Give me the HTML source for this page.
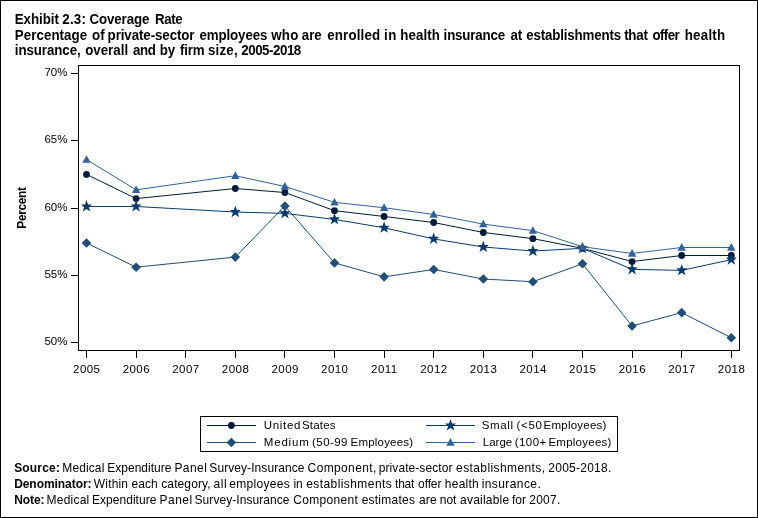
<!DOCTYPE html>
<html><head><meta charset="utf-8"><title>Exhibit 2.3: Coverage Rate</title>
<style>
html,body{margin:0;padding:0;background:#fff;}
body{width:758px;height:518px;position:relative;overflow:hidden;font-family:"Liberation Sans",sans-serif;color:#000;}
#wrap{position:absolute;left:0;top:0;width:758px;height:518px;will-change:transform;}
#frame{position:absolute;left:0;top:0;width:756px;height:516px;border:1px solid #000;}
.t{position:absolute;white-space:nowrap;}
.title{left:15.4px;font-weight:bold;font-size:13.33px;line-height:15px;transform:scaleY(1.06);transform-origin:0 11.9px;}
.foot{font-size:12px;line-height:16px;transform:scaleY(1.08);transform-origin:0 12.2px;}
.tick{font-size:11.5px;line-height:12px;color:#000;}
.yl{text-align:right;width:40px;left:27.5px;}
.xl{text-align:center;width:40px;letter-spacing:0.45px;margin-left:0.25px;}
.lg{font-size:11.5px;line-height:12px;color:#000;}
</style></head><body>
<div id="wrap"><div id="frame"></div>
<svg width="758" height="518" viewBox="0 0 758 518" style="position:absolute;left:0;top:0">
<g shape-rendering="crispEdges" stroke="#000" stroke-width="1" fill="none">
<rect x="78.5" y="65.5" width="661" height="285"/>
<line x1="71" y1="73.5" x2="78" y2="73.5"/>
<line x1="71" y1="140.5" x2="78" y2="140.5"/>
<line x1="71" y1="208.5" x2="78" y2="208.5"/>
<line x1="71" y1="275.5" x2="78" y2="275.5"/>
<line x1="71" y1="342.5" x2="78" y2="342.5"/>
<line x1="86.5" y1="351" x2="86.5" y2="358"/>
<line x1="136.5" y1="351" x2="136.5" y2="358"/>
<line x1="185.5" y1="351" x2="185.5" y2="358"/>
<line x1="235.5" y1="351" x2="235.5" y2="358"/>
<line x1="284.5" y1="351" x2="284.5" y2="358"/>
<line x1="334.5" y1="351" x2="334.5" y2="358"/>
<line x1="384.5" y1="351" x2="384.5" y2="358"/>
<line x1="433.5" y1="351" x2="433.5" y2="358"/>
<line x1="483.5" y1="351" x2="483.5" y2="358"/>
<line x1="532.5" y1="351" x2="532.5" y2="358"/>
<line x1="582.5" y1="351" x2="582.5" y2="358"/>
<line x1="632.5" y1="351" x2="632.5" y2="358"/>
<line x1="681.5" y1="351" x2="681.5" y2="358"/>
<line x1="731.5" y1="351" x2="731.5" y2="358"/>
<rect x="200.5" y="416.5" width="417" height="35" fill="#fff"/>
</g>
<path d="M86.50,174.38 L136.10,198.58 L235.30,188.50 L284.90,192.53 L334.50,210.69 L384.10,216.47 L433.70,222.53 L483.30,232.48 L532.90,238.67 L582.50,248.35 L632.10,261.53 L681.70,255.51 L731.30,255.51" fill="none" stroke="#001b3a" stroke-width="1"/>
<path d="M83.10,174.38 a3.4,3.4 0 1,0 6.8,0 a3.4,3.4 0 1,0 -6.8,0Z M132.70,198.58 a3.4,3.4 0 1,0 6.8,0 a3.4,3.4 0 1,0 -6.8,0Z M231.90,188.50 a3.4,3.4 0 1,0 6.8,0 a3.4,3.4 0 1,0 -6.8,0Z M281.50,192.53 a3.4,3.4 0 1,0 6.8,0 a3.4,3.4 0 1,0 -6.8,0Z M331.10,210.69 a3.4,3.4 0 1,0 6.8,0 a3.4,3.4 0 1,0 -6.8,0Z M380.70,216.47 a3.4,3.4 0 1,0 6.8,0 a3.4,3.4 0 1,0 -6.8,0Z M430.30,222.53 a3.4,3.4 0 1,0 6.8,0 a3.4,3.4 0 1,0 -6.8,0Z M479.90,232.48 a3.4,3.4 0 1,0 6.8,0 a3.4,3.4 0 1,0 -6.8,0Z M529.50,238.67 a3.4,3.4 0 1,0 6.8,0 a3.4,3.4 0 1,0 -6.8,0Z M579.10,248.35 a3.4,3.4 0 1,0 6.8,0 a3.4,3.4 0 1,0 -6.8,0Z M628.70,261.53 a3.4,3.4 0 1,0 6.8,0 a3.4,3.4 0 1,0 -6.8,0Z M678.30,255.51 a3.4,3.4 0 1,0 6.8,0 a3.4,3.4 0 1,0 -6.8,0Z M727.90,255.51 a3.4,3.4 0 1,0 6.8,0 a3.4,3.4 0 1,0 -6.8,0Z" fill="#001b3a"/>

<path d="M86.50,206.49 L136.10,206.49 L235.30,212.03 L284.90,213.38 L334.50,219.43 L384.10,227.77 L433.70,238.93 L483.30,247.00 L532.90,251.04 L582.50,248.35 L632.10,269.33 L681.70,270.41 L731.30,259.65" fill="none" stroke="#073b6d" stroke-width="1"/>
<path d="M86.50,200.09 L88.00,204.39 L91.90,204.39 L88.90,207.29 L90.30,211.59 L86.50,208.89 L82.70,211.59 L84.10,207.29 L81.10,204.39 L85.00,204.39Z M136.10,200.09 L137.60,204.39 L141.50,204.39 L138.50,207.29 L139.90,211.59 L136.10,208.89 L132.30,211.59 L133.70,207.29 L130.70,204.39 L134.60,204.39Z M235.30,205.63 L236.80,209.93 L240.70,209.93 L237.70,212.83 L239.10,217.13 L235.30,214.43 L231.50,217.13 L232.90,212.83 L229.90,209.93 L233.80,209.93Z M284.90,206.98 L286.40,211.28 L290.30,211.28 L287.30,214.18 L288.70,218.48 L284.90,215.78 L281.10,218.48 L282.50,214.18 L279.50,211.28 L283.40,211.28Z M334.50,213.03 L336.00,217.33 L339.90,217.33 L336.90,220.23 L338.30,224.53 L334.50,221.83 L330.70,224.53 L332.10,220.23 L329.10,217.33 L333.00,217.33Z M384.10,221.37 L385.60,225.67 L389.50,225.67 L386.50,228.57 L387.90,232.87 L384.10,230.17 L380.30,232.87 L381.70,228.57 L378.70,225.67 L382.60,225.67Z M433.70,232.53 L435.20,236.83 L439.10,236.83 L436.10,239.73 L437.50,244.03 L433.70,241.33 L429.90,244.03 L431.30,239.73 L428.30,236.83 L432.20,236.83Z M483.30,240.60 L484.80,244.91 L488.70,244.91 L485.70,247.81 L487.10,252.10 L483.30,249.41 L479.50,252.10 L480.90,247.81 L477.90,244.91 L481.80,244.91Z M532.90,244.64 L534.40,248.94 L538.30,248.94 L535.30,251.84 L536.70,256.14 L532.90,253.44 L529.10,256.14 L530.50,251.84 L527.50,248.94 L531.40,248.94Z M582.50,241.95 L584.00,246.25 L587.90,246.25 L584.90,249.15 L586.30,253.45 L582.50,250.75 L578.70,253.45 L580.10,249.15 L577.10,246.25 L581.00,246.25Z M632.10,262.93 L633.60,267.23 L637.50,267.23 L634.50,270.13 L635.90,274.43 L632.10,271.73 L628.30,274.43 L629.70,270.13 L626.70,267.23 L630.60,267.23Z M681.70,264.01 L683.20,268.31 L687.10,268.31 L684.10,271.21 L685.50,275.51 L681.70,272.81 L677.90,275.51 L679.30,271.21 L676.30,268.31 L680.20,268.31Z M731.30,253.25 L732.80,257.55 L736.70,257.55 L733.70,260.45 L735.10,264.75 L731.30,262.05 L727.50,264.75 L728.90,260.45 L725.90,257.55 L729.80,257.55Z" fill="#073b6d"/>

<path d="M86.50,242.97 L136.10,267.18 L235.30,257.09 L284.90,205.98 L334.50,262.88 L384.10,276.86 L433.70,269.47 L483.30,279.02 L532.90,281.71 L582.50,263.82 L632.10,325.96 L681.70,312.64 L731.30,337.79" fill="none" stroke="#1f4e79" stroke-width="1"/>
<path d="M86.50,238.17 L91.30,242.97 L86.50,247.77 L81.70,242.97Z M136.10,262.38 L140.90,267.18 L136.10,271.98 L131.30,267.18Z M235.30,252.29 L240.10,257.09 L235.30,261.89 L230.50,257.09Z M284.90,201.18 L289.70,205.98 L284.90,210.78 L280.10,205.98Z M334.50,258.08 L339.30,262.88 L334.50,267.68 L329.70,262.88Z M384.10,272.06 L388.90,276.86 L384.10,281.66 L379.30,276.86Z M433.70,264.67 L438.50,269.47 L433.70,274.27 L428.90,269.47Z M483.30,274.22 L488.10,279.02 L483.30,283.82 L478.50,279.02Z M532.90,276.91 L537.70,281.71 L532.90,286.51 L528.10,281.71Z M582.50,259.02 L587.30,263.82 L582.50,268.62 L577.70,263.82Z M632.10,321.16 L636.90,325.96 L632.10,330.76 L627.30,325.96Z M681.70,307.84 L686.50,312.64 L681.70,317.44 L676.90,312.64Z M731.30,332.99 L736.10,337.79 L731.30,342.59 L726.50,337.79Z" fill="#1f4e79"/>

<path d="M86.50,159.58 L136.10,189.84 L235.30,175.72 L284.90,186.48 L334.50,202.35 L384.10,207.73 L433.70,214.46 L483.30,224.14 L532.90,230.60 L582.50,246.74 L632.10,253.46 L681.70,247.50 L731.30,247.50" fill="none" stroke="#30639b" stroke-width="1"/>
<path d="M86.50,155.18 L90.70,162.78 L82.30,162.78Z M136.10,185.44 L140.30,193.04 L131.90,193.04Z M235.30,171.32 L239.50,178.92 L231.10,178.92Z M284.90,182.08 L289.10,189.68 L280.70,189.68Z M334.50,197.95 L338.70,205.55 L330.30,205.55Z M384.10,203.33 L388.30,210.93 L379.90,210.93Z M433.70,210.06 L437.90,217.66 L429.50,217.66Z M483.30,219.74 L487.50,227.34 L479.10,227.34Z M532.90,226.20 L537.10,233.80 L528.70,233.80Z M582.50,242.34 L586.70,249.94 L578.30,249.94Z M632.10,249.06 L636.30,256.66 L627.90,256.66Z M681.70,243.10 L685.90,250.70 L677.50,250.70Z M731.30,243.10 L735.50,250.70 L727.10,250.70Z" fill="#30639b"/>

<path d="M207,425.5 L256,425.5" stroke="#001b3a" stroke-width="1" fill="none"/><path d="M228.00,425.50 a3.4,3.4 0 1,0 6.8,0 a3.4,3.4 0 1,0 -6.8,0Z" fill="#001b3a"/>
<path d="M207,442.5 L256,442.5" stroke="#1f4e79" stroke-width="1" fill="none"/><path d="M231.40,437.70 L236.20,442.50 L231.40,447.30 L226.60,442.50Z" fill="#1f4e79"/>
<path d="M426,425.5 L475,425.5" stroke="#073b6d" stroke-width="1" fill="none"/><path d="M450.50,419.10 L452.00,423.40 L455.90,423.40 L452.90,426.30 L454.30,430.60 L450.50,427.90 L446.70,430.60 L448.10,426.30 L445.10,423.40 L449.00,423.40Z" fill="#073b6d"/>
<path d="M426,442.5 L475,442.5" stroke="#30639b" stroke-width="1" fill="none"/><path d="M450.50,438.10 L454.70,445.70 L446.30,445.70Z" fill="#30639b"/>
</svg>
<div class="t title" style="top:12px;left:14.8px;letter-spacing:-0.067px">Exhibit</div>
<div class="t title" style="top:12px;left:62.36px;letter-spacing:0.18px">2.3:</div>
<div class="t title" style="top:12px;left:89.4px;letter-spacing:-0.101px">Coverage</div>
<div class="t title" style="top:12px;left:155.0px;letter-spacing:-0.423px">Rate</div>
<div class="t title" style="top:27.5px;left:14.8px;letter-spacing:0.056px">Percentage</div>
<div class="t title" style="top:27.5px;left:92.08px;letter-spacing:0.022px">of</div>
<div class="t title" style="top:27.5px;left:107.6px;letter-spacing:-0.093px">private-sector</div>
<div class="t title" style="top:27.5px;left:199.44px;letter-spacing:-0.117px">employees</div>
<div class="t title" style="top:27.5px;left:271.19px;letter-spacing:0.222px">who</div>
<div class="t title" style="top:27.5px;left:301.76px;letter-spacing:0.0px">are</div>
<div class="t title" style="top:27.5px;left:327.24px;letter-spacing:0.15px">enrolled</div>
<div class="t title" style="top:27.5px;left:384.0px;letter-spacing:0.5px">in</div>
<div class="t title" style="top:27.5px;left:400.2px;letter-spacing:0.089px">health</div>
<div class="t title" style="top:27.5px;left:443.6px;letter-spacing:-0.163px">insurance</div>
<div class="t title" style="top:27.5px;left:510.6px;letter-spacing:-0.241px">at</div>
<div class="t title" style="top:27.5px;left:526.18px;letter-spacing:-0.161px">establishments</div>
<div class="t title" style="top:27.5px;left:624.18px;letter-spacing:-0.242px">that</div>
<div class="t title" style="top:27.5px;left:652.44px;letter-spacing:-0.578px">offer</div>
<div class="t title" style="top:27.5px;left:684.75px;letter-spacing:0.229px">health</div>
<div class="t title" style="top:42.5px;left:14.8px;letter-spacing:-0.084px">insurance,</div>
<div class="t title" style="top:42.5px;left:85.13px;letter-spacing:0.011px">overall</div>
<div class="t title" style="top:42.5px;left:132.96px;letter-spacing:-0.432px">and</div>
<div class="t title" style="top:42.5px;left:159.67px;letter-spacing:-0.121px">by</div>
<div class="t title" style="top:42.5px;left:179.91px;letter-spacing:-0.142px">firm</div>
<div class="t title" style="top:42.5px;left:208.0px;letter-spacing:0.175px">size,</div>
<div class="t title" style="top:42.5px;left:241.32px;letter-spacing:-0.478px">2005-2018</div>

<div class="t" id="ylab" style="left:22.1px;top:208.3px;font-weight:bold;font-size:11.9px;letter-spacing:-0.34px;line-height:12px;transform:translate(-50%,-50%) rotate(-90deg);">Percent</div>
<div class="t tick yl" style="top:65.5px">70%</div>
<div class="t tick yl" style="top:132.5px">65%</div>
<div class="t tick yl" style="top:200.5px">60%</div>
<div class="t tick yl" style="top:267.5px">55%</div>
<div class="t tick yl" style="top:334.5px">50%</div>
<div class="t tick xl" style="left:66.5px;top:363px">2005</div>
<div class="t tick xl" style="left:116.1px;top:363px">2006</div>
<div class="t tick xl" style="left:165.7px;top:363px">2007</div>
<div class="t tick xl" style="left:215.3px;top:363px">2008</div>
<div class="t tick xl" style="left:264.9px;top:363px">2009</div>
<div class="t tick xl" style="left:314.5px;top:363px">2010</div>
<div class="t tick xl" style="left:364.1px;top:363px">2011</div>
<div class="t tick xl" style="left:413.7px;top:363px">2012</div>
<div class="t tick xl" style="left:463.3px;top:363px">2013</div>
<div class="t tick xl" style="left:512.9px;top:363px">2014</div>
<div class="t tick xl" style="left:562.5px;top:363px">2015</div>
<div class="t tick xl" style="left:612.1px;top:363px">2016</div>
<div class="t tick xl" style="left:661.7px;top:363px">2017</div>
<div class="t tick xl" style="left:711.3px;top:363px">2018</div>
<div class="t lg" style="top:419px;left:263.8px;letter-spacing:0.661px">United</div>
<div class="t lg" style="top:419px;left:301.97px;letter-spacing:0.182px">States</div>
<div class="t lg" style="top:436px;left:263.75px;letter-spacing:0.828px">Medium</div>
<div class="t lg" style="top:436px;left:312.08px;letter-spacing:0.435px">(50-99</div>
<div class="t lg" style="top:436px;left:350.6px;letter-spacing:0.189px">Employees)</div>
<div class="t lg" style="top:419px;left:481.67px;letter-spacing:0.64px">Small</div>
<div class="t lg" style="top:419px;left:516.52px;letter-spacing:0.712px">(&lt;50</div>
<div class="t lg" style="top:419px;left:543.6px;letter-spacing:0.223px">Employees)</div>
<div class="t lg" style="top:436px;left:482.75px;letter-spacing:0.011px">Large</div>
<div class="t lg" style="top:436px;left:514.65px;letter-spacing:0.488px">(100+</div>
<div class="t lg" style="top:436px;left:548.4px;letter-spacing:0.249px">Employees)</div>

<div class="t foot" style="top:460px;left:14.17px;letter-spacing:0.179px"><b>Source:</b></div>
<div class="t foot" style="top:476px;left:14.15px;letter-spacing:-0.057px"><b>Denominator:</b></div>
<div class="t foot" style="top:492px;left:14.15px;letter-spacing:-0.062px"><b>Note:</b></div>
<div class="t foot" style="top:460px;left:62.35px;letter-spacing:0.103px">Medical</div>
<div class="t foot" style="top:460px;left:107.35px;letter-spacing:-0.007px">Expenditure</div>
<div class="t foot" style="top:460px;left:174.4px;letter-spacing:0.452px">Panel</div>
<div class="t foot" style="top:460px;left:209.35px;letter-spacing:0.07px">Survey-Insurance</div>
<div class="t foot" style="top:460px;left:307.6px;letter-spacing:0.369px">Component,</div>
<div class="t foot" style="top:460px;left:378.8px;letter-spacing:0.07px">private-sector</div>
<div class="t foot" style="top:460px;left:456.09px;letter-spacing:0.402px">establishments,</div>
<div class="t foot" style="top:460px;left:548.37px;letter-spacing:0.24px">2005-2018.</div>
<div class="t foot" style="top:476px;left:93.8px;letter-spacing:0.175px">Within</div>
<div class="t foot" style="top:476px;left:131.4px;letter-spacing:0.072px">each</div>
<div class="t foot" style="top:476px;left:161.25px;letter-spacing:0.11px">category,</div>
<div class="t foot" style="top:476px;left:213.43px;letter-spacing:0.577px">all</div>
<div class="t foot" style="top:476px;left:229.29px;letter-spacing:0.303px">employees</div>
<div class="t foot" style="top:476px;left:293.49px;letter-spacing:-0.257px">in</div>
<div class="t foot" style="top:476px;left:306.14px;letter-spacing:0.429px">establishments</div>
<div class="t foot" style="top:476px;left:395.07px;letter-spacing:-0.224px">that</div>
<div class="t foot" style="top:476px;left:418.1px;letter-spacing:-0.123px">offer</div>
<div class="t foot" style="top:476px;left:444.82px;letter-spacing:0.251px">health</div>
<div class="t foot" style="top:476px;left:481.64px;letter-spacing:0.419px">insurance.</div>
<div class="t foot" style="top:492px;left:46.6px;letter-spacing:0.207px">Medical</div>
<div class="t foot" style="top:492px;left:92.0px;letter-spacing:0.03px">Expenditure</div>
<div class="t foot" style="top:492px;left:159.6px;letter-spacing:0.452px">Panel</div>
<div class="t foot" style="top:492px;left:194.52px;letter-spacing:0.064px">Survey-Insurance</div>
<div class="t foot" style="top:492px;left:293.2px;letter-spacing:0.337px">Component</div>
<div class="t foot" style="top:492px;left:361.65px;letter-spacing:0.238px">estimates</div>
<div class="t foot" style="top:492px;left:419.07px;letter-spacing:0.117px">are</div>
<div class="t foot" style="top:492px;left:439.82px;letter-spacing:-0.069px">not</div>
<div class="t foot" style="top:492px;left:460.12px;letter-spacing:0.198px">available</div>
<div class="t foot" style="top:492px;left:512.03px;letter-spacing:-0.034px">for</div>
<div class="t foot" style="top:492px;left:529.21px;letter-spacing:0.269px">2007.</div>

</div></body></html>
